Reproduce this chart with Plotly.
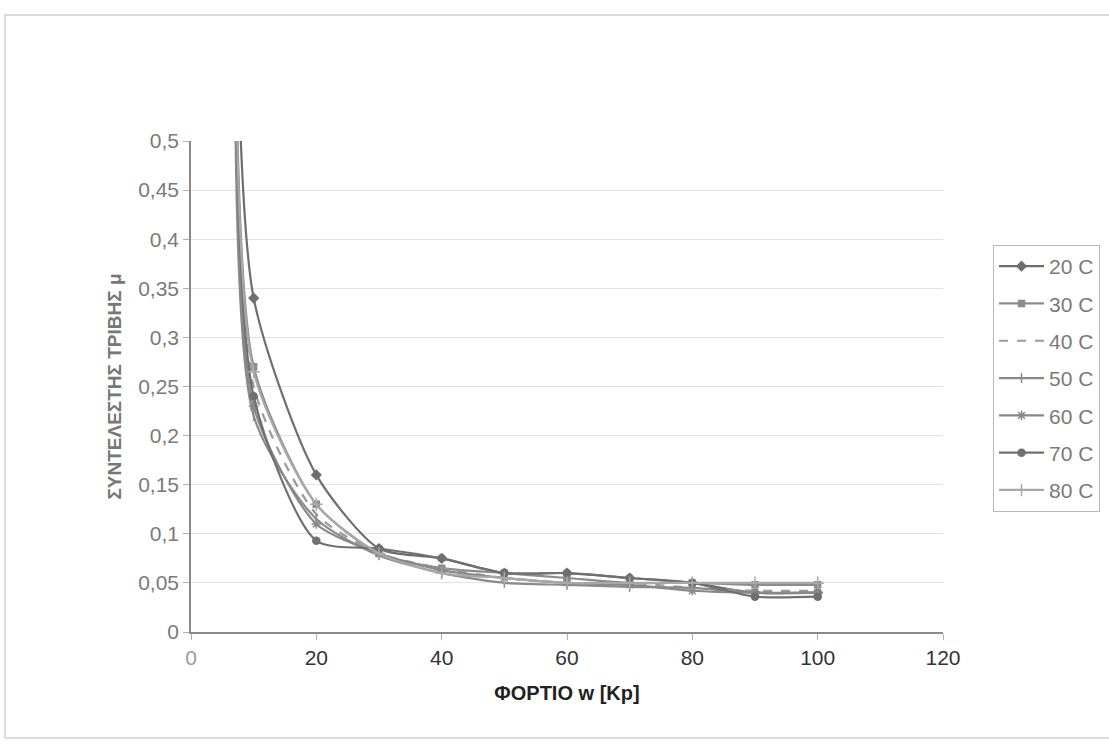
import plotly.graph_objects as go

# Load w [Kp]
load_kp = [7, 10, 20, 30, 40, 50, 60, 70, 80, 90, 100]

# Friction coefficient mu per temperature
mu_20 = [0.74, 0.340, 0.160, 0.085, 0.075, 0.060, 0.060, 0.055, 0.050, 0.040, 0.040]
mu_30 = [0.68, 0.270, 0.130, 0.080, 0.065, 0.060, 0.055, 0.050, 0.050, 0.048, 0.048]
mu_40 = [0.66, 0.250, 0.120, 0.080, 0.065, 0.055, 0.050, 0.050, 0.045, 0.042, 0.042]
mu_50 = [0.64, 0.220, 0.115, 0.078, 0.060, 0.050, 0.048, 0.046, 0.045, 0.040, 0.040]
mu_60 = [0.65, 0.230, 0.110, 0.080, 0.063, 0.055, 0.050, 0.048, 0.042, 0.040, 0.040]
mu_70 = [0.65, 0.240, 0.093, 0.085, 0.075, 0.060, 0.060, 0.055, 0.050, 0.036, 0.036]
mu_80 = [0.67, 0.265, 0.130, 0.080, 0.060, 0.055, 0.050, 0.050, 0.050, 0.050, 0.050]

series_names = ["20 C", "30 C", "40 C", "50 C", "60 C", "70 C", "80 C"]
series_values = [mu_20, mu_30, mu_40, mu_50, mu_60, mu_70, mu_80]

x_tickvals = [0, 20, 40, 60, 80, 100, 120]
x_ticktext = ["<span style='color:#9a9a9a'>0</span>", "20", "40", "60", "80", "100", "120"]
y_tickvals = [0, 0.05, 0.1, 0.15, 0.2, 0.25, 0.3, 0.35, 0.4, 0.45, 0.5]
y_ticktext = ["0", "0,05", "0,1", "0,15", "0,2", "0,25", "0,3", "0,35", "0,4", "0,45", "0,5"]

styles = [
    dict(color="#6e6e6e", dash="solid", symbol="diamond", size=7),
    dict(color="#8c8c8c", dash="solid", symbol="square", size=6),
    dict(color="#9a9a9a", dash="dash", symbol=None, size=0),
    dict(color="#8a8a8a", dash="solid", symbol="line-ns-open", size=7),
    dict(color="#888888", dash="solid", symbol="asterisk-open", size=8),
    dict(color="#707070", dash="solid", symbol="circle", size=7),
    dict(color="#a8a8a8", dash="solid", symbol="cross-thin-open", size=9),
]

fig = go.Figure()
for name, vals, st in zip(series_names, series_values, styles):
    mode = "lines+markers" if st["symbol"] else "lines"
    marker = dict(symbol=st["symbol"], size=st["size"], color=st["color"],
                  line=dict(color=st["color"], width=1.5)) if st["symbol"] else None
    fig.add_trace(go.Scatter(
        x=load_kp, y=vals, name=name, mode=mode, legendgroup=name,
        line=dict(color=st["color"], width=2.2, dash=st["dash"], shape="spline", smoothing=0.7),
        marker=marker, cliponaxis=True,
    ))

W, H = 1109, 745
L, R, T, B = 191, 1109 - 943, 141, 745 - 632
pw, ph = W - L - R, H - T - B

def px_x(p):
    return (p - L) / pw

def px_y(p):
    return (H - B - p) / ph

fig.update_layout(
    width=W, height=H,
    margin=dict(l=L, r=R, t=T, b=B, autoexpand=False),
    paper_bgcolor="white", plot_bgcolor="white",
    font=dict(family="Liberation Sans, Arial, sans-serif", size=21, color="#7a7a7a"),
    showlegend=True,
    legend=dict(
        x=px_x(993), y=px_y(245), xanchor="left", yanchor="top",
        bordercolor="#b8b8b8", borderwidth=1, bgcolor="white",
        font=dict(size=21, color="#7a7a7a"),
        tracegroupgap=7, itemwidth=45,
    ),
    xaxis=dict(
        range=[0, 120], tickvals=x_tickvals, ticktext=x_ticktext,
        showgrid=False, zeroline=False, showline=True, linecolor="#8a8a8a", linewidth=1.5,
        ticks="outside", ticklen=6, tickcolor="#b0b0b0",
        tickfont=dict(size=21, color="#333333"),
        title=dict(text="<b>ΦΟΡΤΙΟ w [Kp]</b>", font=dict(size=20, color="#222222"), standoff=18),
    ),
    yaxis=dict(
        range=[0, 0.5], tickvals=y_tickvals, ticktext=y_ticktext,
        showgrid=True, gridcolor="#e2e2e2", gridwidth=1,
        zeroline=False, showline=True, linecolor="#8a8a8a", linewidth=1.5,
        ticks="outside", ticklen=6, tickcolor="#b0b0b0",
        tickfont=dict(size=21, color="#7a7a7a"),
        title=dict(text="<b>ΣΥΝΤΕΛΕΣΤΗΣ ΤΡΙΒΗΣ μ</b>", font=dict(size=19, color="#777777"), standoff=12),
    ),
    shapes=[
        dict(type="rect", xref="paper", yref="paper",
             x0=px_x(5), x1=px_x(1115), y0=px_y(738), y1=px_y(15),
             line=dict(color="#d0d0d0", width=1.5), fillcolor="rgba(0,0,0,0)", layer="below"),
    ],
)

fig.write_html("out.html")
